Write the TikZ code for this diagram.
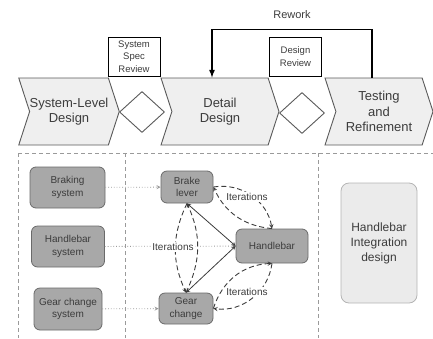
\documentclass[tikz,border=0pt]{standalone}
\usepackage{fontspec}
\setmainfont{Liberation Sans}
\usetikzlibrary{shapes.geometric, shapes.symbols, arrows, positioning}
\definecolor{chevronfill}{HTML}{EFEFEF}
\definecolor{chevronline}{HTML}{5A5A5A}
\definecolor{partfill}{HTML}{A8A8A8}
\definecolor{partline}{HTML}{6A6A6A}
\definecolor{integfill}{HTML}{EBEBEB}
\definecolor{integline}{HTML}{B4B4B4}
\definecolor{textgray}{HTML}{3C3C3C}
\definecolor{framegray}{HTML}{9A9A9A}

\begin{document}
\begin{tikzpicture}[
    x=1pt, y=-1pt,
    phase/.style={signal, signal to=east, signal from=west, signal pointer angle=144, draw=chevronline, fill=chevronfill, line width=0.9pt, minimum height=67pt, inner sep=0pt, align=center, text=textgray, font=\fontsize{13}{15.5}\selectfont},
    gate/.style={diamond, draw=chevronline, line width=0.9pt, minimum width=45pt, minimum height=41pt, inner sep=0pt},
    review/.style={rectangle, draw=black, line width=0.9pt, minimum width=52pt, minimum height=39pt, inner sep=0pt, align=center, text=textgray, font=\fontsize{9.5}{12.5}\selectfont},
    part/.style={rectangle, rounded corners=6pt, draw=partline, fill=partfill, line width=0.8pt, inner sep=0pt, align=center, text=textgray, font=\fontsize{10}{12.5}\selectfont},
    integ/.style={rectangle, rounded corners=8pt, draw=integline, fill=integfill, line width=0.8pt, minimum width=76pt, minimum height=120pt, align=center, text=textgray, font=\fontsize{12}{15}\selectfont},
    itlabel/.style={fill=white, inner sep=1pt, text=textgray, font=\fontsize{10}{12}\selectfont},
    frame/.style={draw=framegray, line width=0.9pt, dash pattern=on 4pt off 3pt},
    feed/.style={->, >=stealth, draw=framegray, line width=0.8pt, dotted},
    link/.style={<->, >=stealth, draw=textgray, line width=0.8pt},
    iterate/.style={->, >=stealth, draw=textgray, line width=0.9pt, dash pattern=on 5pt off 3pt},
    rework/.style={-latex, draw=black, line width=1.6pt}
]
\useasboundingbox (0,0) rectangle (433,338);

% Phases
\node[phase, minimum width=100pt] (syslevel) at (69,111.5) {System-Level\\Design};
\node[phase, minimum width=118pt] (detail) at (220,111.5) {Detail\\Design};
\node[phase, minimum width=108pt] (testing) at (379,111.5) {Testing\\and\\Refinement};

% Reviews
\node[gate] (specgate) at (142,112) {};
\node[gate] (designgate) at (302,113) {};
\node[review] (specreview) at (134,56.5) {System\\Spec\\Review};
\node[review] (designreview) at (295.5,56.5) {Design\\Review};

% Rework loop
\draw[rework] ([xshift=-7pt]testing.north) -- ++(0,-48) -| node[pos=0.25, yshift=15pt, font=\fontsize{11}{13}\selectfont, text=textgray] {Rework} ([xshift=-8pt]detail.north);

% Frames
\draw[frame] (18,153) -- (433,153);
\draw[frame] (18,153) -- (18,338);
\draw[frame] (125,153) -- (125,338);
\draw[frame] (318,153) -- (318,338);

% Parts
\node[part, minimum width=75pt, minimum height=41pt] (braking) at (67.5,187.5) {Braking\\system};
\node[part, minimum width=73pt, minimum height=41pt] (handlesys) at (68,246.5) {Handlebar\\system};
\node[part, minimum width=68pt, minimum height=42pt] (gearsys) at (68,309) {Gear change\\system};
\node[part, minimum width=52pt, minimum height=32pt] (brakelever) at (187,187) {Brake\\lever};
\node[part, minimum width=72pt, minimum height=34pt] (handlebar) at (272,246) {Handlebar};
\node[part, minimum width=54pt, minimum height=31pt] (gearchange) at (186,308.5) {Gear\\change};
\node[integ] (integration) at (379,243) {Handlebar\\Integration\\design};

% Arrows
\draw[feed] (braking) -- (brakelever);
\draw[feed] (handlesys) -- (handlebar);
\draw[feed] (gearsys) -- (gearchange);
\draw[link] (brakelever.south) -- (handlebar.west);
\draw[link] (gearchange.north) -- (handlebar.west);
\draw[iterate] (brakelever.east) to[bend left=45] (handlebar.north);
\draw[iterate] (handlebar.north) to[bend left=30] (brakelever.east);
\draw[iterate] (brakelever.south) to[bend right=25] (gearchange.north);
\draw[iterate] (gearchange.north) to[bend right=25] (brakelever.south);
\draw[iterate] (gearchange.east) to[bend left=35] (handlebar.south);
\draw[iterate] (handlebar.south) to[bend left=45] (gearchange.east);

% Labels
\node[itlabel] (iterleft) at (173,247) {Iterations};
\node[itlabel] (itertop) at (247,197) {Iterations};
\node[itlabel] (iterbottom) at (247,292) {Iterations};

\end{tikzpicture}
\end{document}
